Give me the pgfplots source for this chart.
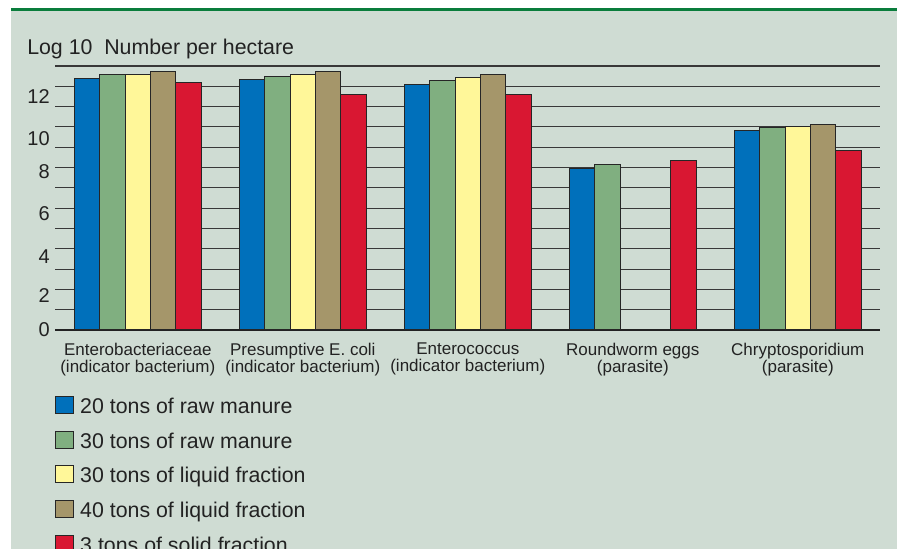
\documentclass[border=0pt]{standalone}
\usepackage{pgfplots}
\pgfplotsset{compat=1.18}
\usepackage{fontspec}
\setmainfont{Liberation Sans}
\definecolor{bg}{HTML}{CFDCD3}
\definecolor{topgreen}{HTML}{0A7D3C}
\definecolor{txt}{HTML}{222222}
\definecolor{cblue}{HTML}{0070BB}
\definecolor{cgreen}{HTML}{80AF80}
\definecolor{cyellow}{HTML}{FFF799}
\definecolor{cbrown}{HTML}{A5966A}
\definecolor{cred}{HTML}{D91732}
\begin{document}
\begin{tikzpicture}
\useasboundingbox (0,0) rectangle (672.75pt,411.75pt);
\clip (0,0) rectangle (672.75pt,411.75pt);
\fill[white] (0,0) rectangle (672.75pt,411.75pt);
\fill[bg] (8.25pt,0) rectangle (672.75pt,404.5pt);
\draw[topgreen, line width=2pt] (8.25pt,404.5pt) -- (672.75pt,404.5pt);
\node[anchor=base west, inner sep=0pt, font=\fontsize{16}{19}\selectfont, text=txt] at (20.25pt,370.5pt) {Log 10\ \ Number per hectare};
\begin{axis}[
  at={(41.475pt,164.25pt)}, anchor=south west,
  scale only axis, width=618.75pt, height=198pt,
  xmin=-0.5, xmax=4.5, ymin=0, ymax=13,
  ybar, bar width=0.1533,
  separate axis lines,
  axis x line*=bottom, axis y line*=left,
  x axis line style={-, draw=txt, line width=1.5pt},
  y axis line style={draw=none},
  major tick length=0pt,
  xtick={0,1,2,3,4},
  xticklabels={{Enterobacteriaceae\\(indicator bacterium)},{Presumptive E. coli\\(indicator bacterium)},{Enterococcus\\(indicator bacterium)},{Roundworm eggs\\(parasite)},{Chryptosporidium\\(parasite)}},
  xticklabel style={align=center, inner sep=0pt, yshift=-9.4pt, text=txt, font=\fontsize{12.75}{13.1}\selectfont},
  ytick={0,1.72,3.61,5.75,7.8,9.44,11.49},
  yticklabels={0,2,4,6,8,10,12},
  yticklabel style={anchor=east, inner sep=0pt, xshift=-4pt, text=txt, font=\fontsize{15}{18}\selectfont},
  extra y ticks={1,2,3,4,5,6,7,8,9,10,11,12,13},
  extra y tick labels={},
  extra y tick style={grid=major, major tick length=0pt},
  major grid style={draw=black!78, line width=0.8pt},
  every axis plot/.append style={draw=black!85, line width=0.75pt},
  legend image code/.code={\draw[#1] (0pt,0pt) rectangle (13.25pt,12.75pt);},
  legend cell align=left,
  legend style={at={(axis description cs:0,-0.2508)}, anchor=north west,
    draw=none, fill=none, inner sep=0pt, outer sep=0pt,
    cells={anchor=base west},
    nodes={inner sep=0pt, text depth=0pt, text=txt, font=\fontsize{16}{19}\selectfont},
    row sep=12.45pt,
    /tikz/every odd column/.append style={column sep=4.7pt}},
]
\addplot[fill=cblue, bar shift=-0.3066] coordinates {(0,12.40) (1,12.32) (2,12.10) (3,7.97) (4,9.80)};
\addplot[fill=cgreen, bar shift=-0.1533] coordinates {(0,12.56) (1,12.48) (2,12.28) (3,8.13) (4,9.98)};
\addplot[fill=cyellow, bar shift=0] coordinates {(0,12.60) (1,12.56) (2,12.43) (4,10.02)};
\addplot[fill=cbrown, bar shift=0.1533] coordinates {(0,12.71) (1,12.71) (2,12.56) (4,10.13)};
\addplot[fill=cred, bar shift=0.3066] coordinates {(0,12.17) (1,11.61) (2,11.61) (3,8.37) (4,8.83)};
\legend{20 tons of raw manure,30 tons of raw manure,30 tons of liquid fraction,40 tons of liquid fraction,3 tons of solid fraction}
\end{axis}
\end{tikzpicture}
\end{document}
